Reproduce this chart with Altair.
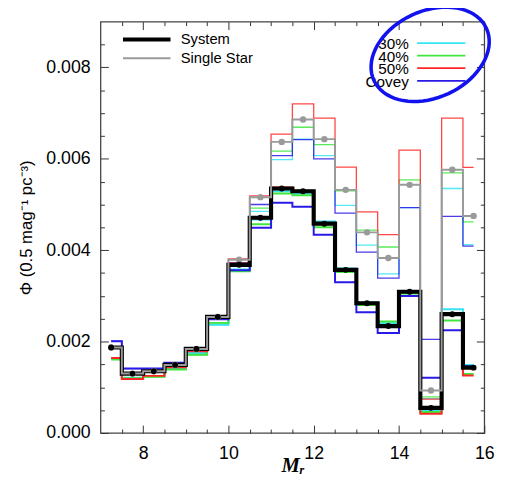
import altair as alt
import pandas as pd
import numpy as np

FONT = "Liberation Sans"

mags = [7.25, 7.75, 8.25, 8.75, 9.25, 9.75, 10.25, 10.75, 11.25,
        11.75, 12.25, 12.75, 13.25, 13.75, 14.25, 14.75, 15.25, 15.75]

system = [0.00187, 0.00130, 0.00135, 0.00149, 0.00184, 0.00254, 0.00368, 0.00471, 0.00535,
          0.00529, 0.00458, 0.00357, 0.00284, 0.00234, 0.00309, 0.00055, 0.00260, 0.00143]
system_30 = [0.00163, 0.00121, 0.00125, 0.00141, 0.00175, 0.00237, 0.00358, 0.00467, 0.00529,
             0.00524, 0.00463, 0.00360, 0.00286, 0.00240, 0.00306, 0.00050, 0.00271, 0.00149]
system_40 = [0.00161, 0.00120, 0.00123, 0.00139, 0.00171, 0.00241, 0.00354, 0.00457, 0.00524,
             0.00520, 0.00450, 0.00352, 0.00280, 0.00244, 0.00305, 0.00046, 0.00246, 0.00129]
system_50 = [0.00164, 0.00118, 0.00125, 0.00144, 0.00179, 0.00250, 0.00371, 0.00470, 0.00537,
             0.00530, 0.00457, 0.00356, 0.00283, 0.00235, 0.00310, 0.00042, 0.00259, 0.00126]
system_covey = [0.00201, 0.00141, 0.00141, 0.00154, 0.00182, 0.00249, 0.00356, 0.00449, 0.00504,
                0.00495, 0.00434, 0.00330, 0.00264, 0.00219, 0.00300, 0.00121, 0.00225, 0.00146]

single = [0.00187, 0.00130, 0.00135, 0.00149, 0.00184, 0.00254, 0.00379, 0.00516, 0.00637,
          0.00686, 0.00643, 0.00532, 0.00439, 0.00383, 0.00543, 0.00093, 0.00576, 0.00475]
single_30 = [0.00163, 0.00121, 0.00125, 0.00141, 0.00175, 0.00237, 0.00373, 0.00485, 0.00598,
             0.00643, 0.00607, 0.00498, 0.00411, 0.00348, 0.00493, 0.00075, 0.00535, 0.00412]
single_40 = [0.00161, 0.00120, 0.00123, 0.00139, 0.00171, 0.00241, 0.00370, 0.00492, 0.00617,
             0.00669, 0.00631, 0.00530, 0.00444, 0.00407, 0.00554, 0.00079, 0.00569, 0.00462]
single_50 = [0.00164, 0.00118, 0.00125, 0.00144, 0.00179, 0.00250, 0.00381, 0.00519, 0.00654,
             0.00720, 0.00689, 0.00582, 0.00484, 0.00434, 0.00619, 0.00074, 0.00689, 0.00581]
single_covey = [0.00201, 0.00141, 0.00141, 0.00154, 0.00182, 0.00249, 0.00372, 0.00500, 0.00607,
                0.00642, 0.00600, 0.00481, 0.00396, 0.00339, 0.00493, 0.00205, 0.00474, 0.00409]

kinds = ["System", "Single Star"]
variants = ["30%", "40%", "50%", "Covey"]
variant_colors = ["#35E4F0", "#3EE63E", "#FF2626", "#2A1AE8"]

series = {
    ("System", "Model"): system,
    ("System", "30%"): system_30,
    ("System", "40%"): system_40,
    ("System", "50%"): system_50,
    ("System", "Covey"): system_covey,
    ("Single Star", "Model"): single,
    ("Single Star", "30%"): single_30,
    ("Single Star", "40%"): single_40,
    ("Single Star", "50%"): single_50,
    ("Single Star", "Covey"): single_covey,
}
rows = []
for (kind, variant), vals in series.items():
    for m, v in zip(mags, vals):
        rows.append({"mag": m, "phi": v, "kind": kind, "variant": variant})
df = pd.DataFrame(rows)

W, H = 390, 418
x_scale = alt.Scale(domain=[7, 16], nice=False, zero=False)
y_scale = alt.Scale(domain=[0, 0.009], nice=False, zero=False)

x_major = [8, 10, 12, 14, 16]
x_minor = [7.5, 8.5, 9, 9.5, 10.5, 11, 11.5, 12.5, 13, 13.5, 14.5, 15, 15.5]
y_major = [0.0, 0.002, 0.004, 0.006, 0.008]
y_minor = [0.0005, 0.001, 0.0015, 0.0025, 0.003, 0.0035, 0.0045, 0.005, 0.0055,
           0.0065, 0.007, 0.0075, 0.0085]

TICK = "#333333"


def tick_axis(orient, values, size, offset):
    return alt.Axis(orient=orient, values=values, tickSize=size, offset=offset,
                    labels=False, domain=False, grid=False, title=None,
                    tickColor=TICK, tickWidth=1)


x_main = alt.Axis(orient="bottom", values=x_major, format="d", ticks=False, tickSize=0,
                  domain=False, grid=False, labelFont=FONT, labelFontSize=18,
                  labelColor="black", labelPadding=12, labelFlush=False,
                  title="Mᵣ", titleFont="Liberation Serif", titleFontStyle="italic",
                  titleFontSize=21, titleFontWeight="bold", titleColor="black",
                  titleBaseline="middle", titleY=33)
y_main = alt.Axis(orient="left", values=y_major, format=".3f", ticks=False, tickSize=0,
                  domain=False, grid=False, labelFont=FONT, labelFontSize=18,
                  labelColor="black", labelPadding=10.5,
                  title="Φ (0.5 mag⁻¹ pc⁻³)", titleFont=FONT, titleFontSize=17,
                  titleFontWeight="normal", titleColor="black",
                  titleBaseline="middle", titleX=-75, titleY=209)

kind_legend = alt.Legend(title=None, orient="none", legendX=20.5, legendY=9,
                         symbolType="stroke", symbolSize=2333,
                         clipHeight=18.3, rowPadding=0, padding=0,
                         labelOffset=8, labelFont=FONT, labelFontSize=15,
                         labelColor="black")

color_enc = alt.Color("variant:N", scale=alt.Scale(domain=variants, range=variant_colors),
                      legend=None)

colored = df[df["variant"] != "Model"]

l_single_col = alt.Chart(colored[colored["kind"] == "Single Star"]).mark_line(
    interpolate="step", strokeWidth=1.3, opacity=0.85).encode(
    x=alt.X("mag:Q", scale=x_scale, axis=x_main),
    y=alt.Y("phi:Q", scale=y_scale, axis=y_main),
    color=color_enc,
)

l_system_col = alt.Chart(colored[colored["kind"] == "System"]).mark_line(
    interpolate="step", strokeWidth=2).encode(
    x=alt.X("mag:Q", scale=x_scale, axis=tick_axis("top", x_major, 8, -H)),
    y=alt.Y("phi:Q", scale=y_scale, axis=tick_axis("right", y_major, 8, -W)),
    color=color_enc,
)

model = df[df["variant"] == "Model"]

l_model = alt.Chart(model).mark_line(interpolate="step").encode(
    x=alt.X("mag:Q", scale=x_scale, axis=tick_axis("top", x_minor, 4, -H)),
    y=alt.Y("phi:Q", scale=y_scale, axis=tick_axis("right", y_minor, 4, -W)),
    stroke=alt.Stroke("kind:N", scale=alt.Scale(domain=kinds, range=["black", "#9a9a9a"]),
                      legend=kind_legend),
    strokeWidth=alt.StrokeWidth("kind:N", scale=alt.Scale(domain=kinds, range=[4.2, 2]),
                                legend=kind_legend),
)

l_gray_pts = alt.Chart(model[model["kind"] == "Single Star"]).mark_circle(
    size=42, color="#9a9a9a", opacity=1).encode(
    x=alt.X("mag:Q", scale=x_scale, axis=tick_axis("bottom", x_major, 8, -H)),
    y=alt.Y("phi:Q", scale=y_scale, axis=tick_axis("left", y_major, 8, -W)),
)

l_black_pts = alt.Chart(model[model["kind"] == "System"]).mark_circle(
    size=36, color="black", opacity=1).encode(
    x=alt.X("mag:Q", scale=x_scale, axis=tick_axis("bottom", x_minor, 4, -H)),
    y=alt.Y("phi:Q", scale=y_scale, axis=tick_axis("left", y_minor, 4, -W)),
)

# key for the coloured variants (labels to the left of their line samples)
one = pd.DataFrame({"k": [0]})
LEG_Y0, LEG_DY = 21.7, 12.8
legend_layers = []
for i, (lab, col) in enumerate(zip(variants, variant_colors)):
    yy = LEG_Y0 + i * LEG_DY
    legend_layers.append(alt.Chart(one).mark_rule(color=col, strokeWidth=1.8).encode(
        x=alt.value(321.8), x2=alt.value(370.8), y=alt.value(yy)))
    legend_layers.append(alt.Chart(one).mark_text(
        align="right", baseline="middle", font=FONT, fontSize=15.5, color="black").encode(
        x=alt.value(313.3), y=alt.value(yy + 1), text=alt.value(lab)))

# hand-drawn annotation ellipse around the right key
a, b, ang = 63.0, 44.0, np.deg2rad(25)
t = np.linspace(0, 2 * np.pi, 73)
ex = (a * np.cos(t) * np.cos(ang) + b * np.sin(t) * np.sin(ang)) / a
ey = (-a * np.cos(t) * np.sin(ang) + b * np.sin(t) * np.cos(ang)) / a
path = "M" + " L".join(f"{px:.4f},{py:.4f}" for px, py in zip(ex, ey)) + " Z"

l_ellipse = alt.Chart(one).mark_point(
    shape=path, size=(2 * a) ** 2, filled=False, stroke="#1212EE",
    strokeWidth=3.6, opacity=1).encode(
    x=alt.value(335), y=alt.value(33.2))

chart = alt.layer(l_single_col, l_system_col, l_model, l_gray_pts, l_black_pts,
                  *legend_layers, l_ellipse).resolve_axis(
    x="independent", y="independent").properties(
    width=W, height=H,
    autosize=alt.AutoSizeParams(type="none"),
    padding={"left": 94, "top": 10, "right": 17, "bottom": 53},
    background="white",
).configure_view(stroke="#444444", strokeWidth=1.3)

chart.save("out.html", embed_options={"renderer": "svg", "actions": False})
